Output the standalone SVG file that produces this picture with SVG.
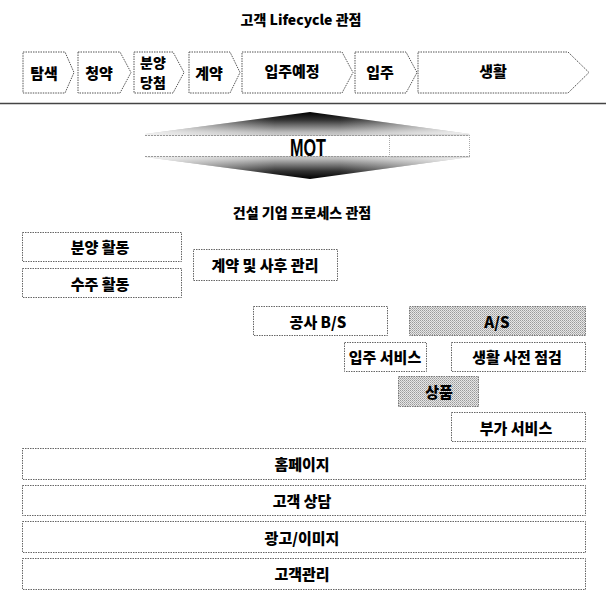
<svg xmlns="http://www.w3.org/2000/svg" width="606" height="593" viewBox="0 0 606 593">
  <style>
    .t { font-family: "Noto Sans CJK KR", "Liberation Sans", sans-serif; font-weight: 900; fill: #000; text-anchor: middle; dominant-baseline: central; }
    .title { font-size: 14px; }
    .lbl { font-size: 15px; }
    .chev { fill: #fff; stroke: #555; stroke-width: 1; stroke-dasharray: 1.5 1; }
    .box { fill: #fff; stroke: #666; stroke-width: 1; stroke-dasharray: 1.5 1; }
    .shade { fill: url(#dither); stroke: #777; stroke-width: 1; stroke-dasharray: 1.5 1; }
  </style>
  <defs>
    <pattern id="dither" width="2" height="2" patternUnits="userSpaceOnUse">
      <rect width="2" height="2" fill="#e6e6e6"/>
      <rect x="0" y="0" width="1" height="1" fill="#9a9a9a"/>
      <rect x="1" y="1" width="1" height="1" fill="#b5b5b5"/>
    </pattern>
    <linearGradient id="motg" x1="0" y1="112" x2="0" y2="179" gradientUnits="userSpaceOnUse">
      <stop offset="0" stop-color="#000"/>
      <stop offset="0.12" stop-color="#333"/>
      <stop offset="0.3" stop-color="#bbb"/>
      <stop offset="0.5" stop-color="#fff"/>
      <stop offset="0.7" stop-color="#bbb"/>
      <stop offset="0.88" stop-color="#333"/>
      <stop offset="1" stop-color="#000"/>
    </linearGradient>
    <linearGradient id="motfade" x1="145" y1="0" x2="470" y2="0" gradientUnits="userSpaceOnUse">
      <stop offset="0" stop-color="#fff" stop-opacity="0.75"/>
      <stop offset="0.4" stop-color="#fff" stop-opacity="0"/>
      <stop offset="0.6" stop-color="#fff" stop-opacity="0"/>
      <stop offset="1" stop-color="#fff" stop-opacity="0.75"/>
    </linearGradient>
  </defs>
  <rect width="606" height="593" fill="#fff"/>

  <text class="t title" x="301" y="19">고객 Lifecycle 관점</text>

  <g id="lifecycle">
    <g id="n-tamsaek"><path class="chev" d="M23,52 H65 L74,72.5 L65,93 H23 Z"/><text class="t lbl" x="44" y="72">탐색</text></g>
    <g id="n-cheongyak"><path class="chev" d="M78,52 H120 L131,72.5 L120,93 H78 Z"/><text class="t lbl" x="99" y="72">청약</text></g>
    <g id="n-dangcheom"><path class="chev" d="M134,52 H173 L184,72.5 L173,93 H134 Z"/><text class="t" style="font-size:14px" x="153" y="62">분양</text><text class="t" style="font-size:14px" x="153" y="82">당첨</text></g>
    <g id="n-gyeyak"><path class="chev" d="M189,52 H230 L240,72.5 L230,93 H189 Z"/><text class="t lbl" x="209" y="72">계약</text></g>
    <g id="n-ipjuyejeong"><path class="chev" d="M242,52 H342 L353,72.5 L342,93 H242 Z"/><text class="t lbl" x="292" y="70">입주예정</text></g>
    <g id="n-ipju"><path class="chev" d="M355,52 H406 L417,72.5 L406,93 H355 Z"/><text class="t lbl" x="380" y="71">입주</text></g>
    <g id="n-saenghwal"><path class="chev" d="M418,52 H568 L589,72.5 L568,93 H418 Z"/><text class="t lbl" x="493" y="70">생활</text></g>
  </g>

  <g id="connectors">
    <line x1="0" y1="103.5" x2="606" y2="103.5" stroke="#444" stroke-width="1.5"/>
  </g>

  <g id="mot">
    <polygon points="145,134 310,112 470,134 470,157 310,179 145,157" fill="url(#motg)"/>
    <polygon points="145,134 310,112 470,134 470,157 310,179 145,157" fill="url(#motfade)"/>
    <rect x="145" y="136" width="325" height="20" fill="#fff"/>
    <line x1="145" y1="135.5" x2="470" y2="135.5" stroke="#999" stroke-width="1" stroke-dasharray="2 1"/>
    <line x1="145" y1="156.5" x2="470" y2="156.5" stroke="#999" stroke-width="1" stroke-dasharray="2 1"/>
    <rect x="389.5" y="135" width="80" height="22" fill="none" stroke="#aaa" stroke-width="1" stroke-dasharray="1 1"/>
    <text x="308" y="147" font-family="'Liberation Sans', sans-serif" font-weight="700" font-size="24" text-anchor="middle" dominant-baseline="central" textLength="36" lengthAdjust="spacingAndGlyphs">MOT</text>
  </g>

  <text class="t title" x="302" y="212">건설 기업 프로세스 관점</text>

  <g id="n-bunyang"><rect class="box" x="22.5" y="232.5" width="159" height="29"/><text class="t lbl" x="100" y="246">분양 활동</text></g>
  <g id="n-suju"><rect class="box" x="22.5" y="268.5" width="159" height="29"/><text class="t lbl" x="100" y="283">수주 활동</text></g>
  <g id="n-gyeyak-mgmt"><rect class="box" x="193.5" y="249.5" width="144" height="31"/><text class="t lbl" x="265" y="264">계약 및 사후 관리</text></g>
  <g id="n-gongsa"><rect class="box" x="253.5" y="306.5" width="134" height="29"/><text class="t lbl" x="318" y="321">공사 B/S</text></g>
  <g id="n-as"><rect class="shade" x="409.5" y="306.5" width="176" height="29"/><text class="t lbl" x="497" y="321">A/S</text></g>
  <g id="n-ipju-service"><rect class="box" x="344.5" y="342.5" width="82" height="29"/><text class="t lbl" x="385" y="356">입주 서비스</text></g>
  <g id="n-jeomgeom"><rect class="box" x="451.5" y="342.5" width="134" height="29"/><text class="t lbl" x="517" y="356">생활 사전 점검</text></g>
  <g id="n-sangpum"><rect class="shade" x="398.5" y="376.5" width="80" height="30"/><text class="t lbl" x="439" y="391">상품</text></g>
  <g id="n-buga"><rect class="box" x="451.5" y="412.5" width="134" height="29"/><text class="t lbl" x="516" y="427">부가 서비스</text></g>
  <g id="n-homepage"><rect class="box" x="22.5" y="448.5" width="563" height="31"/><text class="t lbl" x="302" y="463">홈페이지</text></g>
  <g id="n-sangdam"><rect class="box" x="22.5" y="485.5" width="563" height="30"/><text class="t lbl" x="302" y="500">고객 상담</text></g>
  <g id="n-gwanggo"><rect class="box" x="22.5" y="521.5" width="563" height="31"/><text class="t lbl" x="302" y="537">광고/이미지</text></g>
  <g id="n-gwanri"><rect class="box" x="22.5" y="558.5" width="563" height="31"/><text class="t lbl" x="302" y="573">고객관리</text></g>
</svg>
